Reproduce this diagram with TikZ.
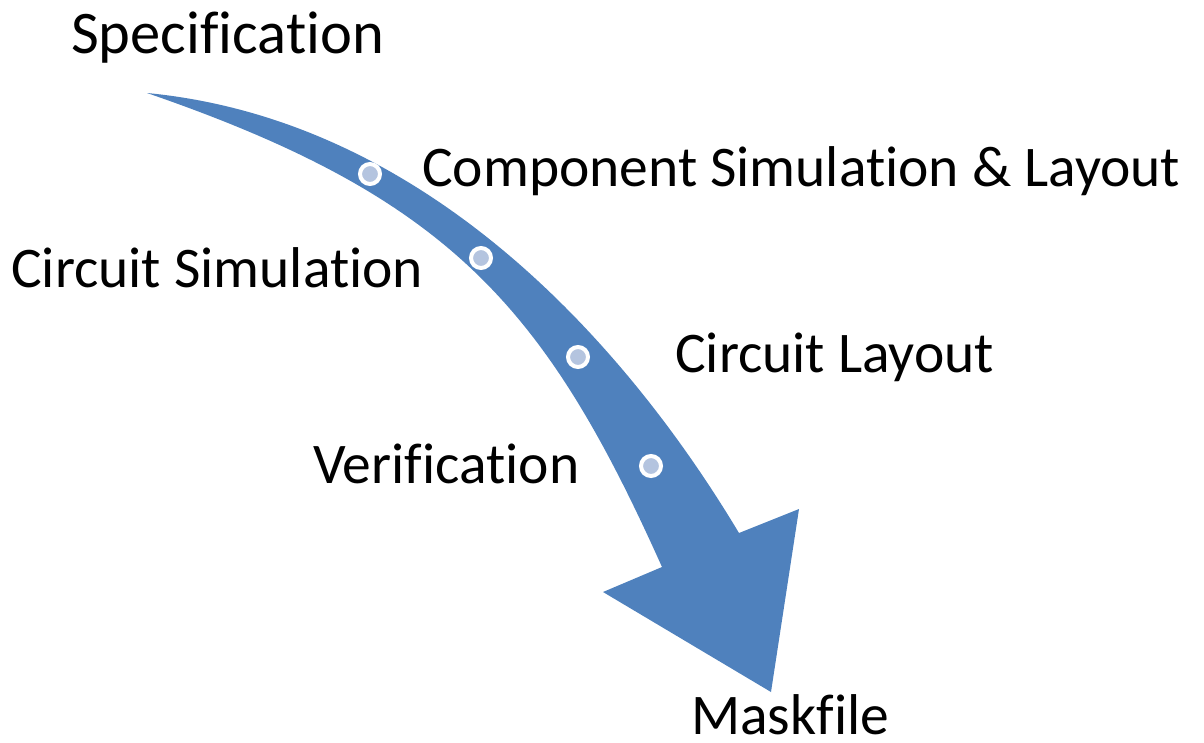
\documentclass[tikz,border=0pt]{standalone}
\usepackage{fontspec}
\setmainfont{Carlito}[Ligatures={NoCommon,NoDiscretionary,NoContextual}]
\definecolor{flowblue}{HTML}{4F81BD}
\definecolor{dotblue}{HTML}{B4C4DF}
\begin{document}
\begin{tikzpicture}[x=1pt,y=-1pt,
  label/.style={anchor=base west,inner sep=0pt,font=\fontsize{57.5}{68}\selectfont},
  stepdot/.style={circle,draw=white,line width=4pt,fill=dotblue,minimum size=20pt,inner sep=0pt}]
\useasboundingbox (0,0) rectangle (1204,742);
% curved flow arrow
\fill[flowblue] (147,93) .. controls (480,125) and (680,435) .. (739,533)
  -- (799,509) -- (771,692) -- (603,592) -- (662,567)
  .. controls (545,306) and (449,197) .. (147,93) -- cycle;
% stage markers along the arrow
\node[stepdot] (d1) at (370,174) {};
\node[stepdot] (d2) at (481,258) {};
\node[stepdot] (d3) at (578,357) {};
\node[stepdot] (d4) at (651,466) {};
% stage labels
\node[label,font=\fontsize{60.5}{72}\selectfont] (spec) at (71,53) {Specification};
\node[label] (comp) at (422,186) {Component Simulation \& Layout};
\node[label] (csim) at (11,287) {Circuit Simulation};
\node[label] (clay) at (675,372) {Circuit Layout};
\node[label] (veri) at (313,483) {Verification};
\node[label] (mask) at (691,734) {Maskfile};
\end{tikzpicture}
\end{document}
